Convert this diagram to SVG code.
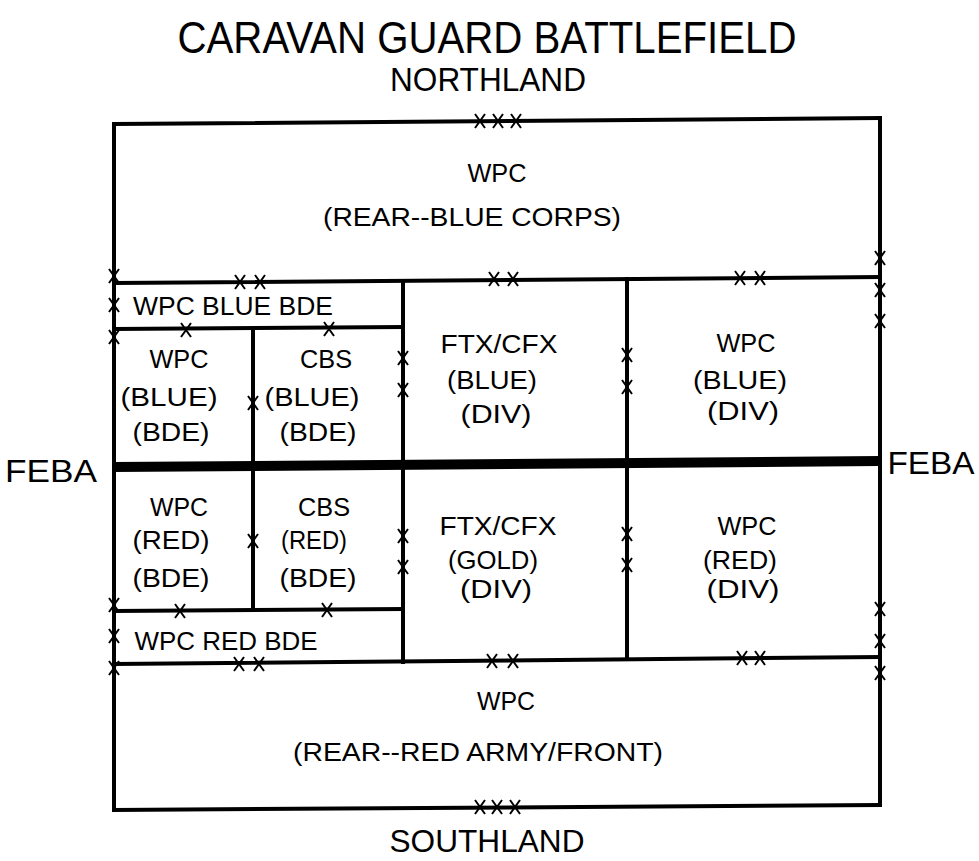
<svg xmlns="http://www.w3.org/2000/svg" xmlns:xlink="http://www.w3.org/1999/xlink" width="979" height="861" viewBox="0 0 979 861">
<style>
  text { font-family: "Liberation Sans", Arial, sans-serif; fill: #000; text-anchor: middle; }
  .lbl { font-size: 26px; }
  .ttl { font-size: 44px; }
  .sub { font-size: 34px; }
  .feba { font-size: 32px; }
  .ln { stroke: #000; stroke-width: 4; fill: none; stroke-linecap: square; }
  .feb { stroke: #000; stroke-width: 10; fill: none; }
  .xm { stroke: #000; stroke-width: 2; fill: none; }
</style>
<defs>
  <path id="xm" class="xm" d="M-5,-7 L5,7 M5,-7 L-5,7"/>
</defs>
<rect width="979" height="861" fill="#fff"/>

<g id="titles">
  <text class="ttl" x="487" y="53" textLength="619" lengthAdjust="spacingAndGlyphs">CARAVAN GUARD BATTLEFIELD</text>
  <text class="sub" x="488" y="91" textLength="196" lengthAdjust="spacingAndGlyphs">NORTHLAND</text>
  <text class="sub" x="487" y="852" style="font-size:31px" textLength="195" lengthAdjust="spacingAndGlyphs">SOUTHLAND</text>
  <text class="feba" x="51" y="482" textLength="92" lengthAdjust="spacingAndGlyphs">FEBA</text>
  <text class="feba" x="931" y="474" textLength="87" lengthAdjust="spacingAndGlyphs">FEBA</text>
</g>

<g id="connectors">
  <line class="ln" x1="114" y1="124" x2="880" y2="118"/>
  <line class="ln" x1="114" y1="810" x2="880" y2="805"/>
  <line class="ln" x1="114" y1="124" x2="114" y2="810"/>
  <line class="ln" x1="880" y1="118" x2="880" y2="805"/>
  <line class="ln" x1="114" y1="283" x2="880" y2="277"/>
  <line class="ln" x1="114" y1="329" x2="403" y2="327"/>
  <line class="feb" x1="114" y1="467" x2="880" y2="461"/>
  <line class="ln" x1="114" y1="611" x2="403" y2="609"/>
  <line class="ln" x1="114" y1="664" x2="880" y2="657"/>
  <line class="ln" x1="253" y1="329" x2="253" y2="610"/>
  <line class="ln" x1="403" y1="281" x2="403" y2="662"/>
  <line class="ln" x1="627" y1="279" x2="627" y2="659"/>
</g>

<g id="markers">
  <use xlink:href="#xm" x="480" y="121"/>
  <use xlink:href="#xm" x="498" y="121"/>
  <use xlink:href="#xm" x="516" y="121"/>
  <use xlink:href="#xm" x="240" y="282"/>
  <use xlink:href="#xm" x="260" y="282"/>
  <use xlink:href="#xm" x="494" y="279"/>
  <use xlink:href="#xm" x="513" y="279"/>
  <use xlink:href="#xm" x="740" y="278"/>
  <use xlink:href="#xm" x="760" y="278"/>
  <use xlink:href="#xm" x="186" y="330"/>
  <use xlink:href="#xm" x="329" y="329"/>
  <use xlink:href="#xm" x="180" y="611"/>
  <use xlink:href="#xm" x="327" y="610"/>
  <use xlink:href="#xm" x="239" y="664"/>
  <use xlink:href="#xm" x="259" y="664"/>
  <use xlink:href="#xm" x="492" y="661"/>
  <use xlink:href="#xm" x="513" y="661"/>
  <use xlink:href="#xm" x="742" y="658"/>
  <use xlink:href="#xm" x="760" y="658"/>
  <use xlink:href="#xm" x="480" y="807"/>
  <use xlink:href="#xm" x="497" y="807"/>
  <use xlink:href="#xm" x="515" y="807"/>
  <use xlink:href="#xm" x="114" y="276"/>
  <use xlink:href="#xm" x="114" y="305"/>
  <use xlink:href="#xm" x="114" y="337"/>
  <use xlink:href="#xm" x="114" y="605"/>
  <use xlink:href="#xm" x="114" y="636"/>
  <use xlink:href="#xm" x="114" y="668"/>
  <use xlink:href="#xm" x="880" y="258"/>
  <use xlink:href="#xm" x="880" y="290"/>
  <use xlink:href="#xm" x="880" y="321"/>
  <use xlink:href="#xm" x="880" y="609"/>
  <use xlink:href="#xm" x="880" y="641"/>
  <use xlink:href="#xm" x="880" y="673"/>
  <use xlink:href="#xm" x="253" y="403"/>
  <use xlink:href="#xm" x="253" y="541"/>
  <use xlink:href="#xm" x="403" y="358"/>
  <use xlink:href="#xm" x="403" y="390"/>
  <use xlink:href="#xm" x="403" y="536"/>
  <use xlink:href="#xm" x="403" y="567"/>
  <use xlink:href="#xm" x="627" y="355"/>
  <use xlink:href="#xm" x="627" y="387"/>
  <use xlink:href="#xm" x="627" y="534"/>
  <use xlink:href="#xm" x="627" y="565"/>
</g>

<g id="rear-blue-corps">
  <text class="lbl" x="497" y="182" textLength="59" lengthAdjust="spacingAndGlyphs">WPC</text>
  <text class="lbl" x="472" y="226" textLength="298" lengthAdjust="spacingAndGlyphs">(REAR--BLUE CORPS)</text>
</g>
<g id="wpc-blue-bde">
  <text class="lbl" x="233" y="315" textLength="200" lengthAdjust="spacingAndGlyphs">WPC BLUE BDE</text>
</g>
<g id="wpc-blue-bde-box">
  <text class="lbl" x="179" y="368" textLength="59" lengthAdjust="spacingAndGlyphs">WPC</text>
  <text class="lbl" x="169" y="406" textLength="97" lengthAdjust="spacingAndGlyphs">(BLUE)</text>
  <text class="lbl" x="171" y="441" textLength="77" lengthAdjust="spacingAndGlyphs">(BDE)</text>
</g>
<g id="cbs-blue-bde">
  <text class="lbl" x="326" y="368" textLength="52" lengthAdjust="spacingAndGlyphs">CBS</text>
  <text class="lbl" x="312" y="406" textLength="95" lengthAdjust="spacingAndGlyphs">(BLUE)</text>
  <text class="lbl" x="318" y="441" textLength="77" lengthAdjust="spacingAndGlyphs">(BDE)</text>
</g>
<g id="ftx-blue-div">
  <text class="lbl" x="499" y="353" textLength="117" lengthAdjust="spacingAndGlyphs">FTX/CFX</text>
  <text class="lbl" x="492" y="389" textLength="90" lengthAdjust="spacingAndGlyphs">(BLUE)</text>
  <text class="lbl" x="496" y="423" textLength="71" lengthAdjust="spacingAndGlyphs">(DIV)</text>
</g>
<g id="wpc-blue-div">
  <text class="lbl" x="746" y="352" textLength="59" lengthAdjust="spacingAndGlyphs">WPC</text>
  <text class="lbl" x="740" y="389" textLength="94" lengthAdjust="spacingAndGlyphs">(BLUE)</text>
  <text class="lbl" x="743" y="420" textLength="72" lengthAdjust="spacingAndGlyphs">(DIV)</text>
</g>
<g id="wpc-red-bde-box">
  <text class="lbl" x="179" y="516" textLength="58" lengthAdjust="spacingAndGlyphs">WPC</text>
  <text class="lbl" x="171" y="549" textLength="77" lengthAdjust="spacingAndGlyphs">(RED)</text>
  <text class="lbl" x="171" y="587" textLength="77" lengthAdjust="spacingAndGlyphs">(BDE)</text>
</g>
<g id="cbs-red-bde">
  <text class="lbl" x="324" y="516" textLength="52" lengthAdjust="spacingAndGlyphs">CBS</text>
  <text class="lbl" x="314" y="549" textLength="66" lengthAdjust="spacingAndGlyphs">(RED)</text>
  <text class="lbl" x="318" y="587" textLength="77" lengthAdjust="spacingAndGlyphs">(BDE)</text>
</g>
<g id="ftx-gold-div">
  <text class="lbl" x="498" y="535" textLength="117" lengthAdjust="spacingAndGlyphs">FTX/CFX</text>
  <text class="lbl" x="493" y="569" textLength="90" lengthAdjust="spacingAndGlyphs">(GOLD)</text>
  <text class="lbl" x="496" y="598" textLength="72" lengthAdjust="spacingAndGlyphs">(DIV)</text>
</g>
<g id="wpc-red-div">
  <text class="lbl" x="747" y="535" textLength="59" lengthAdjust="spacingAndGlyphs">WPC</text>
  <text class="lbl" x="740" y="569" textLength="74" lengthAdjust="spacingAndGlyphs">(RED)</text>
  <text class="lbl" x="743" y="598" textLength="73" lengthAdjust="spacingAndGlyphs">(DIV)</text>
</g>
<g id="wpc-red-bde">
  <text class="lbl" x="226" y="650" textLength="183" lengthAdjust="spacingAndGlyphs">WPC RED BDE</text>
</g>
<g id="rear-red-army">
  <text class="lbl" x="506" y="710" textLength="58" lengthAdjust="spacingAndGlyphs">WPC</text>
  <text class="lbl" x="478" y="761" textLength="370" lengthAdjust="spacingAndGlyphs">(REAR--RED ARMY/FRONT)</text>
</g>
</svg>
